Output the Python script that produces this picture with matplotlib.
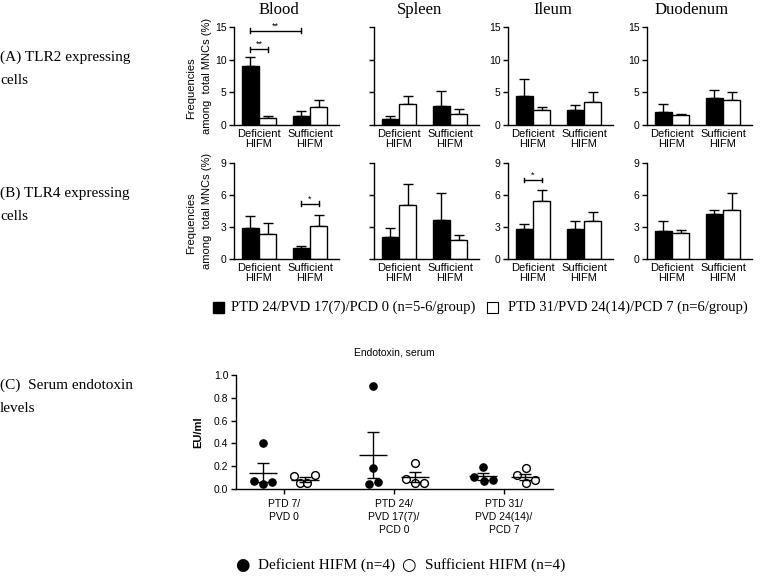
import matplotlib.pyplot as plt
import numpy as np

W, H = 765, 576
SERIF = 'Liberation Serif'
SANS = 'Liberation Sans'

tissues = ['Blood', 'Spleen', 'Ileum', 'Duodenum']
groups = ['Deficient\nHIFM', 'Sufficient\nHIFM']

# TLR2 expressing cells, % of total MNCs, [deficient, sufficient] per tissue
tlr2_ptd24 = [[9.1, 1.35], [0.87, 2.9], [4.5, 2.25], [2.0, 4.2]]
tlr2_ptd24_err = [[1.3, 0.75], [0.53, 2.3], [2.5, 0.85], [1.2, 1.1]]
tlr2_ptd31 = [[1.1, 2.8], [3.2, 1.75], [2.3, 3.5], [1.5, 3.8]]
tlr2_ptd31_err = [[0.25, 1.1], [1.3, 0.65], [0.4, 1.6], [0.15, 1.2]]

# TLR4 expressing cells
tlr4_ptd24 = [[2.9, 1.05], [2.05, 3.7], [2.8, 2.8], [2.65, 4.25]]
tlr4_ptd24_err = [[1.1, 0.15], [0.9, 2.5], [0.5, 0.75], [0.9, 0.3]]
tlr4_ptd31 = [[2.3, 3.05], [5.1, 1.8], [5.45, 3.6], [2.4, 4.55]]
tlr4_ptd31_err = [[1.1, 1.1], [1.9, 0.45], [1.0, 0.8], [0.35, 1.6]]

# significance brackets: (tissue, (group, bar), (group, bar), height, label)
tlr2_sig = [(0, (0, 0), (0, 1), 11.6, '**'), (0, (0, 0), (1, 0), 14.4, '**')]
tlr4_sig = [(0, (1, 0), (1, 1), 5.2, '*'), (2, (0, 0), (0, 1), 7.4, '*')]

# serum endotoxin, EU/ml
timepoints = ['PTD 7/\nPVD 0', 'PTD 24/\nPVD 17(7)/\nPCD 0', 'PTD 31/\nPVD 24(14)/\nPCD 7']
endo_deficient = [[0.40, 0.07, 0.04, 0.065], [0.90, 0.18, 0.04, 0.065], [0.195, 0.105, 0.067, 0.078]]
endo_sufficient = [[0.11, 0.05, 0.05, 0.12], [0.23, 0.09, 0.05, 0.05], [0.18, 0.12, 0.05, 0.08]]

# horizontal scatter of the dots (layout only)
jit_def = [[-0.188, -0.273, -0.194, -0.106], [-0.188, -0.188, -0.23, -0.143], [-0.188, -0.27, -0.185, -0.097]]
jit_suf = [[0.091, 0.145, 0.212, 0.279], [0.194, 0.109, 0.191, 0.273], [0.2, 0.115, 0.2, 0.282]]


def px_axes(fig, left, top, width, height):
    return fig.add_axes([left / W, 1 - (top + height) / H, width / W, height / H])


def prism(ax):
    for s in ['top', 'right']:
        ax.spines[s].set_visible(False)
    for s in ['left', 'bottom']:
        ax.spines[s].set_linewidth(1.0)
    ax.tick_params(length=3.5, width=1.0, labelsize=7.5, pad=2)
    for lab in ax.get_xticklabels() + ax.get_yticklabels():
        lab.set_family(SANS)


fig = plt.figure(figsize=(W / 100, H / 100), dpi=100)

col_left = [234, 374, 508, 647]
bw = 0.34


def bar_row(top, height, ymax, step, black, black_err, white, white_err, sig):
    for i, t in enumerate(tissues):
        ax = px_axes(fig, col_left[i], top, 105, height)
        x = np.arange(2)
        ax.bar(x - bw / 2, black[i], bw, color='black', edgecolor='black', lw=1, zorder=2)
        ax.bar(x + bw / 2, white[i], bw, color='white', edgecolor='black', lw=1, zorder=2)
        ax.errorbar(x - bw / 2, black[i], yerr=[[0, 0], black_err[i]], fmt='none',
                    ecolor='black', elinewidth=1, capsize=3.5, capthick=1, zorder=1)
        ax.errorbar(x + bw / 2, white[i], yerr=[[0, 0], white_err[i]], fmt='none',
                    ecolor='black', elinewidth=1, capsize=3.5, capthick=1, zorder=1)
        ax.set_xlim(-0.49, 1.57)
        ax.set_ylim(0, ymax)
        ax.set_yticks(np.arange(0, ymax + 0.1, step))
        ax.set_xticks(x)
        ax.set_xticklabels(groups, linespacing=1.0)
        prism(ax)
        ax.tick_params(axis='x', length=0, labelsize=8, pad=3)
        if i == 1:
            ax.set_yticklabels([])
        for k, g1, g2, y, lab in sig:
            if k != i:
                continue
            xa = g1[0] + (g1[1] - 0.5) * bw
            xb = g2[0] + (g2[1] - 0.5) * bw
            ax.plot([xa, xb], [y, y], color='black', lw=1, clip_on=False)
            cap = ymax * 0.025
            ax.plot([xa, xa], [y - cap, y + cap], color='black', lw=1, clip_on=False)
            ax.plot([xb, xb], [y - cap, y + cap], color='black', lw=1, clip_on=False)
            ax.text((xa + xb) / 2, y, lab, ha='center', va='bottom', fontsize=6.5,
                    family=SANS)


bar_row(27, 98, 15, 5, tlr2_ptd24, tlr2_ptd24_err, tlr2_ptd31, tlr2_ptd31_err, tlr2_sig)
bar_row(163, 96, 9, 3, tlr4_ptd24, tlr4_ptd24_err, tlr4_ptd31, tlr4_ptd31_err, tlr4_sig)

# column titles
for i, t in enumerate(tissues):
    fig.text((col_left[i] + 45) / W, 1 - 10 / H, t, ha='center', va='center',
             fontsize=12, family=SERIF)

# y labels of rows A and B
for yc in [76, 211]:
    fig.text(191 / W, 1 - (yc + 12) / H, 'Frequencies', rotation=90, ha='center',
             va='center', fontsize=8, family=SANS)
    fig.text(207 / W, 1 - yc / H, 'among  total MNCs (%)', rotation=90, ha='center',
             va='center', fontsize=8, family=SANS)

# row captions
captions = [(57, '(A) TLR2 expressing'), (80, 'cells'), (193, '(B) TLR4 expressing'),
            (216, 'cells'), (385, '(C)  Serum endotoxin'), (408, 'levels')]
for y, s in captions:
    fig.text(0, 1 - y / H, s, ha='left', va='center', fontsize=11, family=SERIF)

# legend for bar panels
fig.patches.append(plt.Rectangle((213 / W, 1 - 313 / H), 11 / W, 11 / H, facecolor='black',
                                 edgecolor='black', transform=fig.transFigure, figure=fig))
fig.text(231 / W, 1 - 307 / H, 'PTD 24/PVD 17(7)/PCD 0 (n=5-6/group)', ha='left',
         va='center', fontsize=10.5, family=SERIF)
fig.patches.append(plt.Rectangle((487 / W, 1 - 313 / H), 11 / W, 11 / H, facecolor='white',
                                 edgecolor='black', lw=0.8, transform=fig.transFigure, figure=fig))
fig.text(508 / W, 1 - 307 / H, 'PTD 31/PVD 24(14)/PCD 7 (n=6/group)', ha='left',
         va='center', fontsize=10.5, family=SERIF)

# panel C
axc = px_axes(fig, 236, 375, 317, 114)
for j in range(3):
    d = np.array(endo_deficient[j])
    s = np.array(endo_sufficient[j])
    axc.plot(j + np.array(jit_def[j]), d, 'o', ms=5.2, color='black', zorder=3)
    axc.plot(j + np.array(jit_suf[j]), s, 'o', ms=5.6, mfc='white', mec='black', mew=1, zorder=3)
    for vals, xc in [(d, j - 0.19), (s, j + 0.19)]:
        m = vals.mean()
        sem = vals.std(ddof=1) / np.sqrt(len(vals))
        axc.hlines(m, xc - 0.13, xc + 0.13, color='black', lw=1, zorder=4)
        axc.errorbar(xc, m, yerr=sem, fmt='none', ecolor='black', elinewidth=1,
                     capsize=4, capthick=1, zorder=4)
axc.set_xlim(-0.436, 2.445)
axc.set_ylim(0, 1.0)
axc.set_yticks(np.arange(0, 1.01, 0.2))
axc.set_yticklabels(['%.1f' % v for v in np.arange(0, 1.01, 0.2)])
axc.set_xticks(range(3))
axc.set_xticklabels(timepoints, linespacing=1.35)
prism(axc)
axc.tick_params(axis='x', pad=4)
axc.set_ylabel('EU/ml', fontsize=8, fontweight='bold', family=SANS, labelpad=8)
axc.set_title('Endotoxin, serum', fontsize=7.5, family=SANS, pad=14)

# legend for panel C
fig.text(242 / W, 1 - 565 / H, '\u25cf', ha='center', va='center', fontsize=12, family='DejaVu Sans')
fig.text(258 / W, 1 - 565 / H, 'Deficient HIFM (n=4)', ha='left', va='center', fontsize=11, family=SERIF)
fig.text(408 / W, 1 - 565 / H, '\u25cb', ha='center', va='center', fontsize=12, family='DejaVu Sans')
fig.text(425 / W, 1 - 565 / H, 'Sufficient HIFM (n=4)', ha='left', va='center', fontsize=11, family=SERIF)

fig.savefig('out.png', dpi=100)
